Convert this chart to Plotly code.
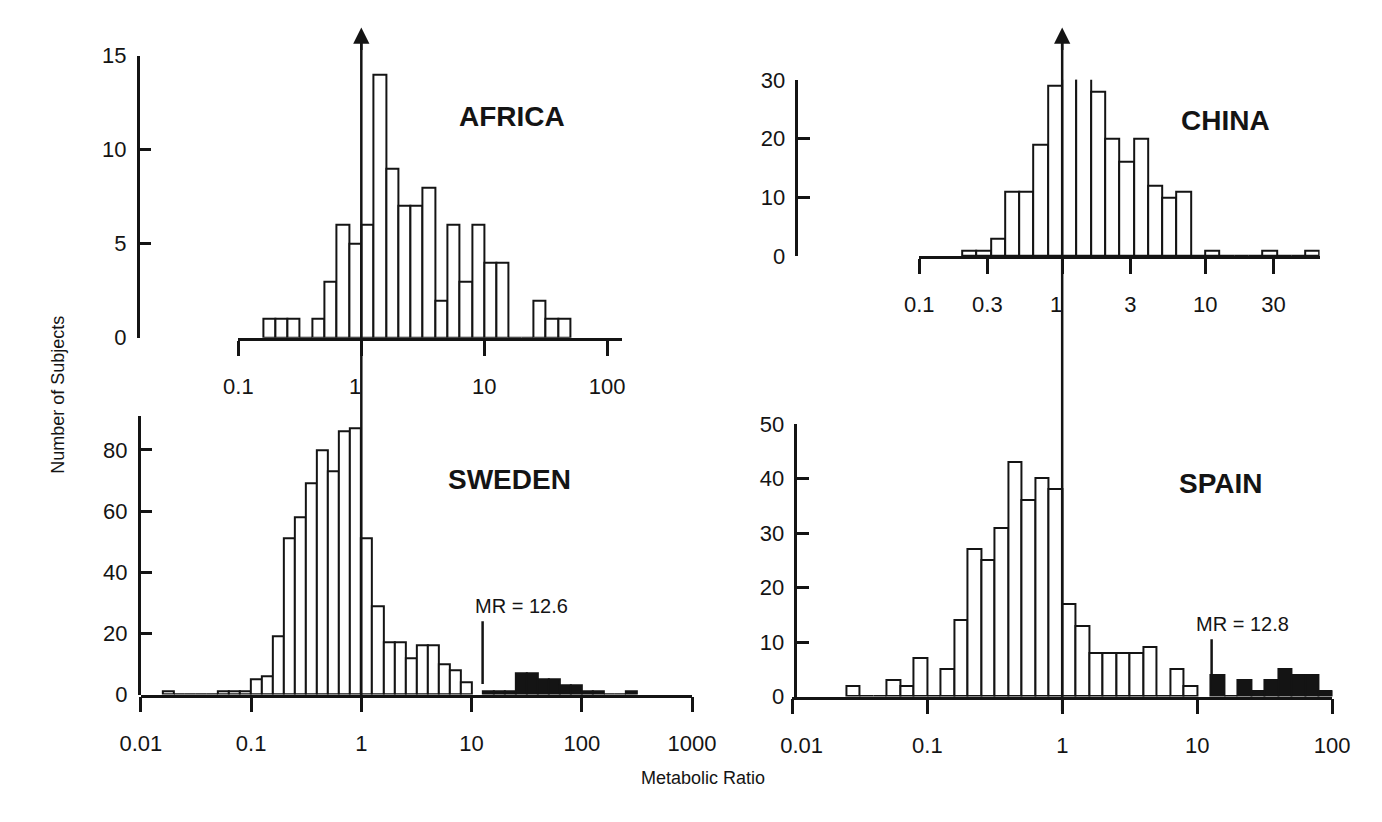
import math
import plotly.graph_objects as go

W, H = 1382, 822

# Histogram bins are 0.1 decade wide in metabolic ratio (MR)
BIN = 0.1

# first bin's lower edge (log10 MR) and subject counts per bin
africa_first_bin = -0.8
africa_counts = [1, 1, 1, 0, 1, 3, 6, 5, 6, 14, 9, 7, 7, 8, 2, 6, 3, 6, 4, 4, 0, 0, 2, 1, 1]

china_first_bin = -0.7
china_counts = [1, 1, 3, 11, 11, 19, 29, 32, 33, 28, 20, 16, 20, 12, 10, 11, 0, 1, 0, 0, 0, 1, 0, 0, 1]

sweden_first_bin = -1.8
sweden_counts = [1, 0, 0, 0, 0, 1, 1, 1, 5, 6, 19, 51, 58, 69, 80, 73, 86, 87,
                 51, 29, 17, 17, 12, 16, 16, 10, 8, 4]
# poor metabolisers (above the antimode), shown filled
sweden_pm_first_bin = 1.1
sweden_pm_counts = [1, 1, 1, 7, 7, 5, 5, 3, 3, 1, 1, 0, 0, 1]

spain_first_bin = -1.6
spain_counts = [2, 0, 0, 3, 2, 7, 0, 5, 14, 27, 25, 31, 43, 36, 40, 38,
                17, 13, 8, 8, 8, 8, 9, 0, 5, 2]
spain_pm_first_bin = 1.1
spain_pm_counts = [4, 0, 3, 1, 3, 5, 4, 4, 1]

sweden_antimode = 12.6
spain_antimode = 12.8
reference_mr = 1

africa_xticks = [0.1, 1, 10, 100]
china_xticks = [0.1, 0.3, 1, 3, 10, 30]
sweden_xticks = [0.01, 0.1, 1, 10, 100, 1000]
spain_xticks = [0.01, 0.1, 1, 10, 100]

africa_yticks = [0, 5, 10, 15]
china_yticks = [0, 10, 20, 30]
sweden_yticks = [0, 20, 40, 60, 80]
spain_yticks = [0, 10, 20, 30, 40, 50]

INK = "#141414"
FONT = "Liberation Sans, Arial, sans-serif"
NBSP = "\u00a0"


def px_x(p):
    return p / W


def px_y(p):
    return 1 - p / H


def edges(first, counts):
    return [round(first + BIN * i, 3) for i in range(len(counts))]


def tick_texts(ticks, pad_left=None, pad_right=None):
    """Tick labels; padding nudges a label off the reference line or axis corner."""
    out = []
    for v in ticks:
        s = f"{v:g}"
        if pad_right is not None and v == pad_right:
            s += NBSP * 2
        if pad_left is not None and v == pad_left:
            s = NBSP * 3 + s
        out.append(s)
    return out


fig = go.Figure()

# (axis suffix, first bin, counts, fill)
hists = [
    ("", africa_first_bin, africa_counts, "white"),
    ("2", china_first_bin, china_counts, "white"),
    ("3", sweden_first_bin, sweden_counts, "white"),
    ("3", sweden_pm_first_bin, sweden_pm_counts, INK),
    ("4", spain_first_bin, spain_counts, "white"),
    ("4", spain_pm_first_bin, spain_pm_counts, INK),
]
for suffix, first, counts, fill in hists:
    fig.add_trace(go.Bar(
        x=edges(first, counts), y=counts, width=BIN, offset=0,
        xaxis="x" + suffix, yaxis="y" + suffix,
        marker=dict(color=fill, line=dict(color=INK, width=2)),
        showlegend=False, hoverinfo="skip",
    ))

tick_font = dict(family=FONT, size=22, color=INK)


def xaxis(dom_px, rng, ticks, anchor, labels):
    return dict(
        domain=[px_x(dom_px[0]), px_x(dom_px[1])], range=rng, anchor=anchor,
        tickmode="array", tickvals=[math.log10(v) for v in ticks], ticktext=labels,
        ticks="outside", ticklen=15, tickwidth=2.5, tickcolor=INK,
        showline=True, linewidth=2.5, linecolor=INK,
        showgrid=False, zeroline=False, tickfont=tick_font,
        ticklabelstandoff=12, fixedrange=True,
    )


def yaxis(dom_px, rng, ticks, pos_px):
    return dict(
        domain=[px_y(dom_px[1]), px_y(dom_px[0])], range=rng,
        anchor="free", position=px_x(pos_px),
        tickmode="array", tickvals=ticks,
        ticks="inside", ticklen=12, tickwidth=2.5, tickcolor=INK,
        showline=True, linewidth=2.5, linecolor=INK,
        showgrid=False, zeroline=False, tickfont=tick_font,
        ticklabelstandoff=6, fixedrange=True,
    )


# Pixel layout: MR = 1 of the upper and lower panel in each column share one line
left_one, right_one = 344, 1074
fig.update_layout(
    xaxis=xaxis((216, 615), [-1, 2.117], africa_xticks, "y",
                tick_texts(africa_xticks, pad_right=reference_mr)),
    yaxis=yaxis((45, 336), [0, 15], africa_yticks, 111),
    xaxis2=xaxis((925, 1342), [-1, 1.8], china_xticks, "y2",
                 tick_texts(china_xticks, pad_right=reference_mr)),
    yaxis2=yaxis((70, 252), [0, 30], china_yticks, 797),
    xaxis3=xaxis((left_one - 229.6, left_one + 344.4), [-2, 3], sweden_xticks, "y3",
                 tick_texts(sweden_xticks)),
    yaxis3=yaxis((417, 704), [0, 91], sweden_yticks, 112),
    xaxis4=xaxis((right_one - 281, right_one + 281.4), [-2, 2.003], spain_xticks, "y4",
                 tick_texts(spain_xticks, pad_left=spain_xticks[0])),
    yaxis4=yaxis((425, 706), [0, 50], spain_yticks, 796),
)

shapes = []
annotations = []

# MR = 1 reference lines running through both panels of a column, arrow on top
for xr, bottom_px in (("x", 719), ("x2", 721)):
    shapes.append(dict(type="line", xref=xr, yref="paper",
                       x0=math.log10(reference_mr), x1=math.log10(reference_mr),
                       y0=px_y(bottom_px), y1=px_y(26),
                       line=dict(color=INK, width=2.5)))
    annotations.append(dict(x=math.log10(reference_mr), y=px_y(16), xref=xr, yref="paper",
                            ax=0, ay=24, showarrow=True, arrowhead=2, arrowsize=1.3,
                            arrowwidth=2.5, arrowcolor=INK, text=""))

# antimode markers
for xr, yr, mr, y0, y1 in (("x3", "y3", sweden_antimode, 3.5, 24),
                           ("x4", "y4", spain_antimode, 3.2, 10.5)):
    shapes.append(dict(type="line", xref=xr, yref=yr, x0=math.log10(mr), x1=math.log10(mr),
                       y0=y0, y1=y1, line=dict(color=INK, width=2.5)))


def label(text, xc, yc, size, bold=False, angle=0):
    return dict(text=f"<b>{text}</b>" if bold else text,
                x=px_x(xc), y=px_y(yc), xref="paper", yref="paper",
                xanchor="center", yanchor="middle", showarrow=False, textangle=angle,
                font=dict(family=FONT, size=size, color=INK))


annotations += [
    label(f"MR = {sweden_antimode:g}", 511, 613, 20),
    label(f"MR = {spain_antimode:g}", 1262, 631, 20),
    label("AFRICA", 501, 108, 28, bold=True),
    label("CHINA", 1244, 112, 28, bold=True),
    label("SWEDEN", 498, 482, 28, bold=True),
    label("SPAIN", 1239, 486, 28, bold=True),
    label("Number of Subjects", 28, 395, 18, angle=-90),
    label("Metabolic Ratio", 700, 790, 18),
]

fig.update_layout(
    width=W, height=H, margin=dict(l=0, r=0, t=0, b=0),
    paper_bgcolor="white", plot_bgcolor="white",
    bargap=0, shapes=shapes, annotations=annotations,
)

fig.write_html("out.html")
